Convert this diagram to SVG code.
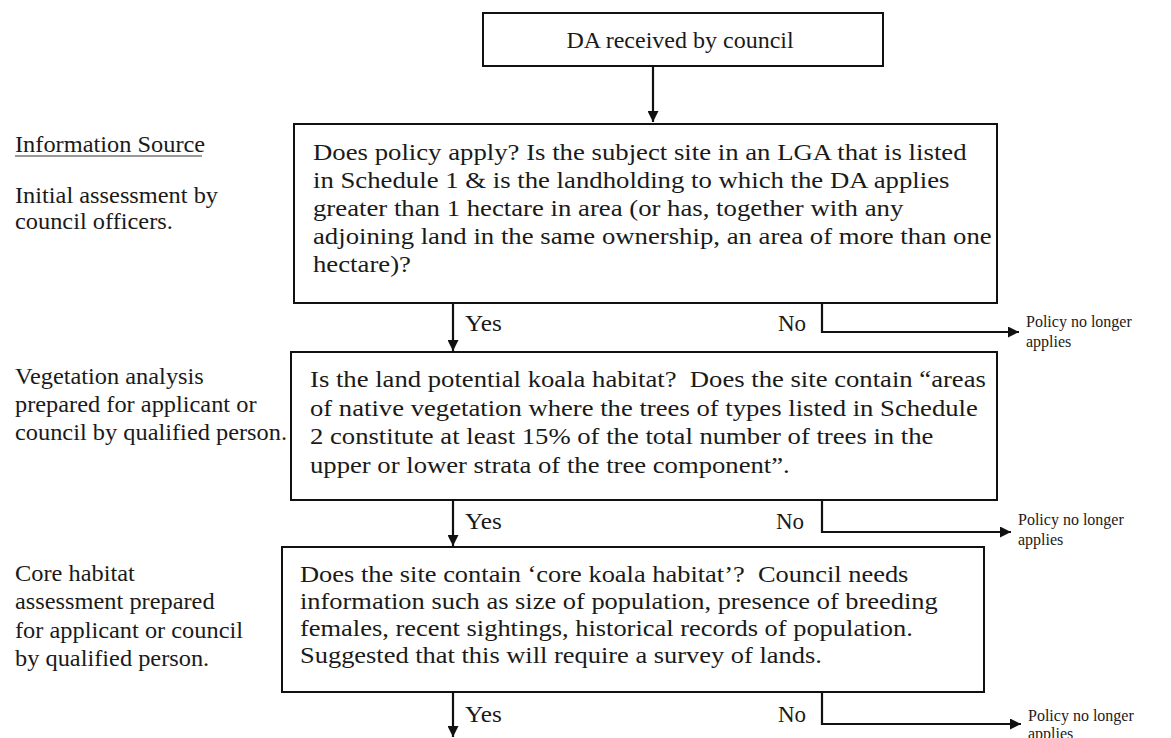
<svg xmlns="http://www.w3.org/2000/svg" width="1171" height="738" viewBox="0 0 1171 738">
<style>
.box{fill:#fff;stroke:#111;stroke-width:2}
.t{font-family:"Liberation Serif","Times New Roman",serif;fill:#1a1a1a}
.body{font-size:23px}
.side{font-size:23px}
.pol{font-size:16px}
.con{fill:none;stroke:#111;stroke-width:2.2}
</style>
<defs>
<marker id="ah" viewBox="0 0 10 10" refX="10" refY="5" markerWidth="5" markerHeight="5" orient="auto" markerUnits="strokeWidth">
<path d="M0,0 L10,5 L0,10 z" fill="#111"/>
</marker>
</defs>
<rect width="1171" height="738" fill="#fff"/>

<g id="side-info">
<text class="t side" transform="translate(15,0) scale(1.06,1)"><tspan x="0" y="152">Information Source</tspan><tspan x="0" y="203">Initial assessment by</tspan><tspan x="0" y="229">council officers.</tspan></text>
<line x1="15" y1="156" x2="202" y2="156" stroke="#333" stroke-width="1.2"/>
</g>
<g id="side-veg">
<text class="t side" transform="translate(15,0) scale(1.06,1)"><tspan x="0" y="384">Vegetation analysis</tspan><tspan x="0" y="412">prepared for applicant or</tspan><tspan x="0" y="440">council by qualified person.</tspan></text>
</g>
<g id="side-core">
<text class="t side" transform="translate(15,0) scale(1.06,1)"><tspan x="0" y="581">Core habitat</tspan><tspan x="0" y="609">assessment prepared</tspan><tspan x="0" y="638">for applicant or council</tspan><tspan x="0" y="666">by qualified person.</tspan></text>
</g>

<g id="n-da">
<rect class="box" x="483" y="13" width="400" height="53"/>
<text class="t" font-size="24" x="680" y="48" text-anchor="middle">DA received by council</text>
</g>

<g id="n-policy">
<rect class="box" x="294" y="124" width="703" height="179"/>
<text class="t body" transform="translate(313,0) scale(1.163,1)"><tspan x="0" y="160">Does policy apply? Is the subject site in an LGA that is listed</tspan><tspan x="0" y="188">in Schedule 1 &amp; is the landholding to which the DA applies</tspan><tspan x="0" y="216">greater than 1 hectare in area (or has, together with any</tspan><tspan x="0" y="244">adjoining land in the same ownership, an area of more than one</tspan><tspan x="0" y="272">hectare)?</tspan></text>
</g>

<g id="n-habitat">
<rect class="box" x="291" y="352" width="706" height="148"/>
<text class="t body" transform="translate(310,0) scale(1.16,1)"><tspan x="0" y="387">Is the land potential koala habitat? &#160;Does the site contain “areas</tspan><tspan x="0" y="416">of native vegetation where the trees of types listed in Schedule</tspan><tspan x="0" y="444">2 constitute at least 15% of the total number of trees in the</tspan><tspan x="0" y="473">upper or lower strata of the tree component”.</tspan></text>
</g>

<g id="n-core">
<rect class="box" x="282" y="547" width="702" height="145"/>
<text class="t body" transform="translate(300,0) scale(1.15,1)"><tspan x="0" y="582">Does the site contain ‘core koala habitat’? &#160;Council needs</tspan><tspan x="0" y="609">information such as size of population, presence of breeding</tspan><tspan x="0" y="636">females, recent sightings, historical records of population.</tspan><tspan x="0" y="663">Suggested that this will require a survey of lands.</tspan></text>
</g>

<g id="n-out1">
<text class="t pol"><tspan x="1026" y="327">Policy no longer</tspan><tspan x="1026" y="347">applies</tspan></text>
</g>
<g id="n-out2">
<text class="t pol"><tspan x="1018" y="525">Policy no longer</tspan><tspan x="1018" y="545">applies</tspan></text>
</g>
<g id="n-out3">
<text class="t pol"><tspan x="1028" y="721">Policy no longer</tspan><tspan x="1028" y="739">applies</tspan></text>
</g>

<g id="connectors">
<path class="con" d="M653,66 V122" marker-end="url(#ah)"/>
<path class="con" d="M453,303 V351" marker-end="url(#ah)"/>
<path class="con" d="M822,303 V332 H1019" marker-end="url(#ah)"/>
<path class="con" d="M453,500 V546" marker-end="url(#ah)"/>
<path class="con" d="M822,500 V532 H1011" marker-end="url(#ah)"/>
<path class="con" d="M453,692 V737" marker-end="url(#ah)"/>
<path class="con" d="M822,692 V724 H1021" marker-end="url(#ah)"/>
<text class="t body" transform="translate(465,0) scale(1.1,1)"><tspan x="0" y="331">Yes</tspan><tspan x="0" y="529">Yes</tspan><tspan x="0" y="722">Yes</tspan></text>
<text class="t body" x="778" y="331">No</text>
<text class="t body" x="776" y="529">No</text>
<text class="t body" x="778" y="722">No</text>
</g>
</svg>
